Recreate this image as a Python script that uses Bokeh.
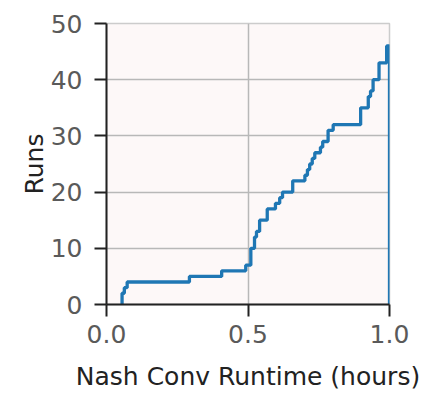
from bokeh.plotting import figure
from bokeh.models import FixedTicker, Range1d
from bokeh.embed import file_html
from bokeh.resources import INLINE

# Step positions (hours) and cumulative number of runs
runtime = [0.055, 0.055, 0.063, 0.073, 0.293, 0.407, 0.492, 0.510, 0.523, 0.530,
           0.541, 0.568, 0.597, 0.612, 0.622, 0.658, 0.701, 0.710, 0.718, 0.727,
           0.736, 0.756, 0.764, 0.783, 0.801, 0.898, 0.925, 0.933, 0.942, 0.963,
           0.990, 1.0]
runs = [0, 2, 3, 4, 5, 6, 7, 10, 12, 13,
        15, 17, 18, 19, 20, 22, 23, 24, 25, 26,
        27, 28, 29, 31, 32, 35, 37, 38, 40, 43,
        46, 0]

x_ticks = [0.0, 0.5, 1.0]
x_tick_labels = {0.0: "0.0", 0.5: "0.5", 1.0: "1.0"}
y_ticks = [0, 10, 20, 30, 40, 50]

p = figure(width=423, height=403, output_backend="svg", toolbar_location=None,
           x_range=Range1d(0, 1), y_range=Range1d(0, 50),
           min_border_left=106, min_border_right=34, min_border_top=23, min_border_bottom=99)

p.background_fill_color = "#fdf8f8"
p.border_fill_color = "white"
p.outline_line_color = "#cccccc"
p.outline_line_width = 1.5

p.step(runtime, runs, mode="after", line_color="#1f77b4", line_width=3.3)

for ax in (p.xaxis[0], p.yaxis[0]):
    ax.axis_line_color = "#222222"
    ax.axis_line_width = 2
    ax.major_tick_line_color = "#222222"
    ax.major_tick_line_width = 2
    ax.major_tick_out = 12
    ax.major_tick_in = 0
    ax.minor_tick_line_color = None
    ax.major_label_text_font = "DejaVu Sans"
    ax.major_label_text_font_size = "25px"
    ax.major_label_text_color = "#5a5a5a"
    ax.axis_label_text_font = "DejaVu Sans"
    ax.axis_label_text_font_size = "25px"
    ax.axis_label_text_font_style = "normal"
    ax.axis_label_text_color = "#222222"

p.xaxis.ticker = FixedTicker(ticks=x_ticks)
p.xaxis.major_label_overrides = x_tick_labels
p.yaxis.ticker = FixedTicker(ticks=y_ticks)
p.xaxis.axis_label = "Nash Conv Runtime (hours)"
p.yaxis.axis_label = "Runs"
p.xaxis.major_label_standoff = 8
p.yaxis.major_label_standoff = 12
p.xaxis.axis_label_standoff = 16
p.yaxis.axis_label_standoff = -1

p.xgrid.grid_line_color = "#b8b8b8"
p.ygrid.grid_line_color = "#b8b8b8"
p.xgrid.grid_line_width = 1.5
p.ygrid.grid_line_width = 1.5

open("out.html", "w").write(file_html(p, INLINE))
